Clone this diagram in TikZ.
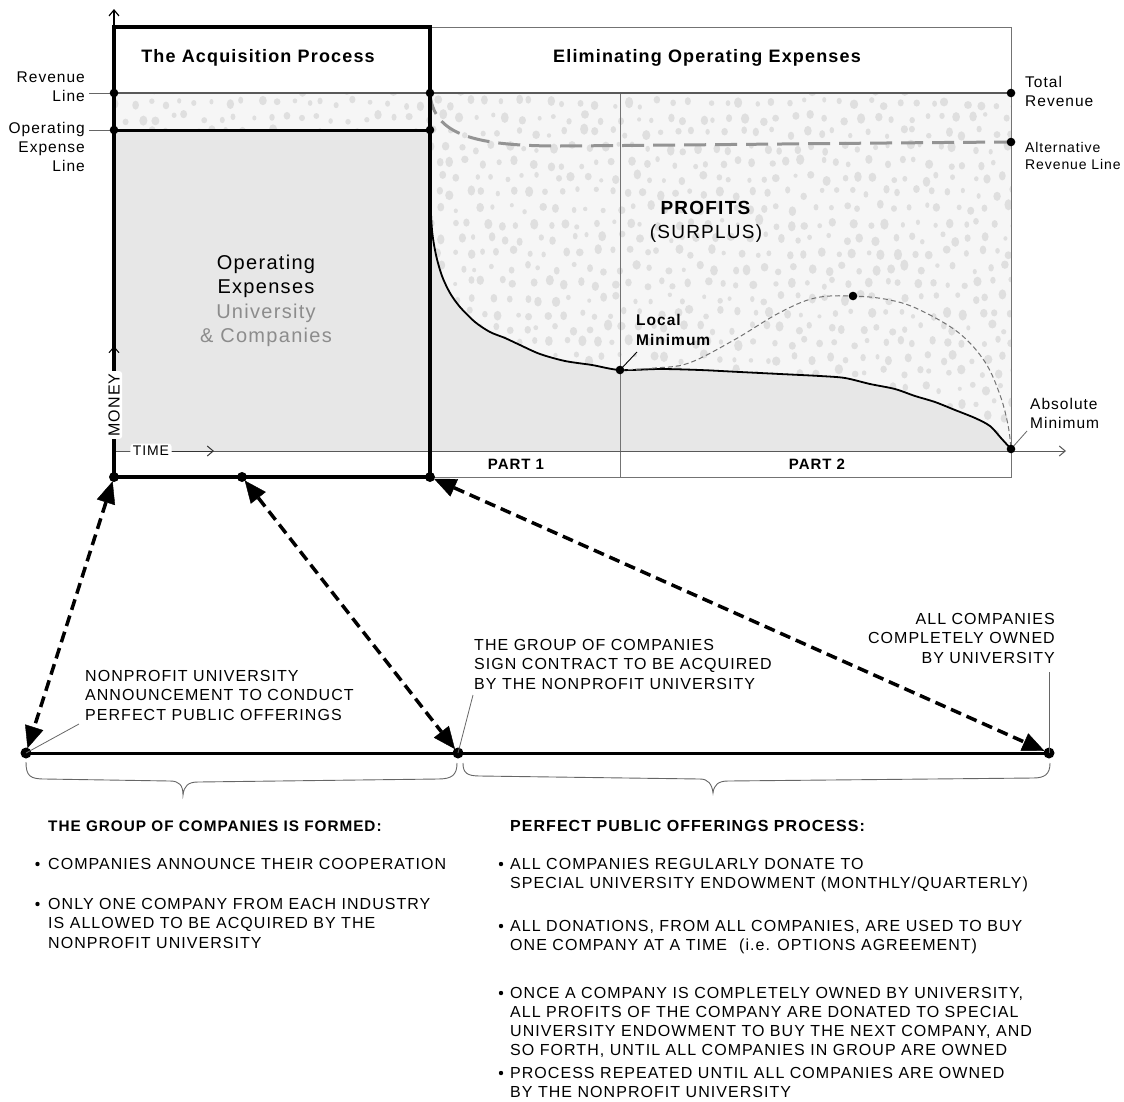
\documentclass[tikz,border=0pt]{standalone}
\usepackage{fontspec}
\setmainfont{Liberation Sans}[LetterSpace=6.5]
\usetikzlibrary{arrows.meta}
\newcommand\setfs[2]{\fontsize{#1}{#2}\selectfont}
\definecolor{dotbg}{gray}{0.963}
\definecolor{dotc}{gray}{0.875}
\definecolor{expfill}{gray}{0.905}
\begin{document}
\begin{tikzpicture}[x=1pt,y=-1pt,
  thinline/.style={draw=black!55, line width=1pt},
  leader/.style={draw=black!60, line width=0.8pt},
  barb/.style={-{Straight Barb[length=6pt,width=10pt]}, line width=1pt},
  dasharrow/.style={line width=3.5pt, dash pattern=on 11pt off 6pt,
    {Triangle[length=22pt,width=19pt,line width=0.4pt]}-{Triangle[length=22pt,width=19pt,line width=0.4pt]},
    shorten <=4.5pt, shorten >=5pt},
  lbl/.style={inner sep=0pt, font=\setfs{15.5}{19}},
  body/.style={inner sep=0pt, anchor=north west, align=left, font=\setfs{16}{19.2}},
  bul/.style={circle, fill=black, inner sep=0pt, minimum size=4.4pt},
]
\useasboundingbox (0,0) rectangle (1124,1101);

% ---------- coordinates
\coordinate (ytop) at (114,9);
\coordinate (acqTL) at (114,27);
\coordinate (acqBR) at (430,477);
\coordinate (elTL) at (430,27);
\coordinate (elBR) at (1011,477);
\coordinate (rv0) at (114,93);
\coordinate (rv1) at (430,93);
\coordinate (rv2) at (1011,93);
\coordinate (revtick) at (89,93);
\coordinate (ox0) at (114,130);
\coordinate (ox1) at (430,130);
\coordinate (oxtick) at (89,130);
\coordinate (alt1) at (1011,142);
\coordinate (p1top) at (620,93);
\coordinate (p1bot) at (620,477);
\coordinate (org) at (114,451);
\coordinate (xtip) at (1066,451);
\coordinate (timetip) at (214,451);
\coordinate (moneytip) at (114,346);
\coordinate (lm) at (620,370);
\coordinate (pk) at (853,296);
\coordinate (am) at (1011,449);
\coordinate (lmlead) at (637,352);
\coordinate (amlead) at (1027,431);
\coordinate (q0) at (114,477);
\coordinate (q1) at (242,477);
\coordinate (q2) at (430,477);
\coordinate (t0) at (26,753);
\coordinate (t1) at (458,753);
\coordinate (t2) at (1049,753);
\coordinate (t0lead) at (79,724);
\coordinate (t1lead) at (473,695);
\coordinate (t2lead) at (1049,672);

% ---------- dotted (profit) texture
\begin{scope}
  \clip (114,93) rectangle (430,130) (430,93) rectangle (1011,451);
  \fill[dotbg] (100,80) rectangle (1020,460);
  \pgfmathsetseed{4711}
  \foreach \i in {0,...,58}{
    \foreach \j in {0,...,25}{
      \pgfmathsetmacro\xx{108+16*\i+8*mod(\j,2)+4.5*rand}
      \pgfmathsetmacro\yy{88+15*\j+4*rand}
      \pgfmathsetmacro\rx{2+2.2*rnd}
      \pgfmathsetmacro\ry{\rx*(1+0.4*rnd)}
      \fill[dotc] (\xx,\yy) ellipse [x radius=\rx pt, y radius=\ry pt];
    }
  }
\end{scope}

% ---------- operating expense fills
\fill[expfill] (114,130) rectangle (430,451);
\fill[expfill] (430,451) -- (430,192) -- plot[smooth,tension=0.5] coordinates {(430,192) (432,230) (436,255) (442,276) (450,293) (460,307) (475,322) (490,332) (505,338) (520,345) (540,354) (565,361) (592,365) (620,370) (660,369) (700,370) (740,372) (780,374) (820,376) (845,378) (870,384) (895,389) (915,396) (935,402) (955,410) (975,418) (990,426) (1001,438) (1011,449)} -- (1011,451) -- cycle;

% ---------- frame lines
\draw[thinline] (elTL) rectangle (elBR);
\draw[thinline] (p1top) -- (p1bot);
\draw[barb, draw=black!65] (org) -- (xtip);
\draw[line width=2pt, black!65] (rv0) -- (rv2);
\draw[leader] (revtick) -- (rv0);
\draw[leader] (oxtick) -- (ox0);
\draw[line width=3pt] (ox0) -- (ox1);

% alternative revenue line
\draw[line width=3pt, black!42, dash pattern=on 22pt off 9pt]
  (rv1) .. controls (433,135) and (475,146) .. (560,146)
        .. controls (700,145) and (860,143) .. (alt1);

% operating expense curve
\draw[line width=1.8pt] plot[smooth,tension=0.5] coordinates {(430,192) (432,230) (436,255) (442,276) (450,293) (460,307) (475,322) (490,332) (505,338) (520,345) (540,354) (565,361) (592,365) (620,370) (660,369) (700,370) (740,372) (780,374) (820,376) (845,378) (870,384) (895,389) (915,396) (935,402) (955,410) (975,418) (990,426) (1001,438) (1011,449)};

% hypothetical dashed curve
\draw[black!55, line width=1pt, dash pattern=on 5pt off 3pt] plot[smooth,tension=0.6] coordinates {(620,370) (655,368) (689,363) (734,340) (779,313) (815,298) (853,296) (890,300) (920,310) (959,333) (985,362) (1000,395) (1008,425) (1011,449)};

% acquisition box
\draw[line width=3.5pt] (acqTL) rectangle (acqBR);
\draw[barb, line width=1.2pt] (acqTL) -- (ytop);

% axis labels
\node[fill=white, rounded corners=3pt, inner sep=2.5pt, font=\setfs{14}{16}] (time) at (151,451) {TIME};
\draw[barb, draw=black!80] (time.east) -- (timetip);
\node[fill=white, rounded corners=3pt, inner sep=2.5pt, rotate=90, font=\setfs{16}{18}] (money) at (114,405) {MONEY};
\draw[barb] (money.east) -- (moneytip);

% leaders of minima
\draw[black, line width=0.9pt] (lm) -- (lmlead);
\draw[leader] (am) -- (amlead);

% dots
\foreach \dd in {rv0,rv1,rv2,ox0,ox1,alt1,lm,pk,am} \fill (\dd) circle[radius=4.3pt];
\foreach \dd in {q0,q1,q2} \fill (\dd) circle[radius=5pt];

% ---------- chart texts
\node[anchor=base, font=\setfs{18}{22}\bfseries] (tacq) at (258,62) {The Acquisition Process};
\node[anchor=base, font=\setfs{18}{22}\bfseries] (telim) at (707,62) {Eliminating Operating Expenses};
\node[lbl, anchor=north east, align=right] (lrev) at (85,71.5) {Revenue\\Line};
\node[lbl, anchor=north east, align=right] (lopx) at (85,122.5) {Operating\\Expense\\Line};
\node[lbl, anchor=north west, align=left] (ltot) at (1025,76.5) {Total\\Revenue};
\node[inner sep=0pt, font=\setfs{14}{17}, anchor=north west, align=left] (lalt) at (1025,142) {Alternative\\Revenue Line};
\node[inner sep=0pt, anchor=north, align=center, font=\setfs{20}{24.3}] (opx) at (266,254.8)
  {Operating\\Expenses\\\textcolor{black!45}{University}\\\textcolor{black!45}{\& Companies}};
\node[inner sep=0pt, anchor=north, align=center, font=\setfs{19}{24}] (prof) at (706,201.2)
  {\textbf{PROFITS}\\(SURPLUS)};
\node[lbl, anchor=north west, align=left, font=\setfs{15.5}{20}\bfseries] (lmin) at (636,314.5) {Local\\Minimum};
\node[lbl, anchor=north west, align=left] (amin) at (1030,398.5) {Absolute\\Minimum};
\node[anchor=base, font=\setfs{15}{18}\bfseries] (part1) at (516,469.5) {PART 1};
\node[anchor=base, font=\setfs{15}{18}\bfseries] (part2) at (817,469.5) {PART 2};

% ---------- timeline
\draw[line width=3pt] (t0) -- (t2);
\foreach \dd in {t0,t1,t2} \fill (\dd) circle[radius=5.5pt];
\draw[dasharrow] (q0) -- (t0);
\draw[dasharrow] (q1) -- (t1);
\draw[dasharrow] (q2) -- (t2);

\draw[leader] (t0) -- (t0lead);
\draw[leader] (t1) -- (t1lead);
\draw[leader] (t2) -- (t2lead);
\node[body] (ann1) at (85,670.3) {NONPROFIT UNIVERSITY\\ANNOUNCEMENT TO CONDUCT\\PERFECT PUBLIC OFFERINGS};
\node[body] (ann2) at (474,639.3) {THE GROUP OF COMPANIES\\SIGN CONTRACT TO BE ACQUIRED\\BY THE NONPROFIT UNIVERSITY};
\node[body, anchor=north east, align=right] (ann3) at (1055,613.3) {ALL COMPANIES\\COMPLETELY OWNED\\BY UNIVERSITY};

% braces
\draw[black!60, line width=0.9pt] (26,762) .. controls (26,776) and (30,779) .. (45,779) -- (170,781)
  .. controls (179,781) and (183,785) .. (183,795) .. controls (184,786) and (188,782) .. (198,782)
  -- (438,779) .. controls (452,779) and (457,775) .. (457,763);
\draw[black!60, line width=0.9pt] (463,763) .. controls (463,773) and (467,776) .. (480,776) -- (700,779)
  .. controls (708,779) and (712,784) .. (713,793) .. controls (714,785) and (718,781) .. (728,781)
  -- (1033,778) .. controls (1045,778) and (1050,774) .. (1050,763);

% ---------- lists
\node[anchor=base west, inner sep=0pt, font=\setfs{15.3}{19}\bfseries] (head1) at (48,831.5) {THE GROUP OF COMPANIES IS FORMED:};
\node[anchor=base west, inner sep=0pt, font=\setfs{16}{19}\bfseries] (head2) at (510,831.5) {PERFECT PUBLIC OFFERINGS PROCESS:};

\node[bul] (bl1) at (37.5,864) {};
\node[bul] (bl2) at (37.5,904) {};
\node[body] (left1) at (48,858.3) {COMPANIES ANNOUNCE THEIR COOPERATION};
\node[body] (left2) at (48,898.3) {ONLY ONE COMPANY FROM EACH INDUSTRY\\IS ALLOWED TO BE ACQUIRED BY THE\\NONPROFIT UNIVERSITY};

\node[bul] (br1) at (501,864) {};
\node[bul] (br2) at (501,926) {};
\node[bul] (br3) at (501,993) {};
\node[bul] (br4) at (501,1073) {};
\node[body] (right1) at (510,858.3) {ALL COMPANIES REGULARLY DONATE TO\\SPECIAL UNIVERSITY ENDOWMENT (MONTHLY/QUARTERLY)};
\node[body] (right2) at (510,920.3) {ALL DONATIONS, FROM ALL COMPANIES, ARE USED TO BUY\\ONE COMPANY AT A TIME\hspace{12pt}(i.e. OPTIONS AGREEMENT)};
\node[body, font=\setfs{16}{18.8}] (right3) at (510,987.3) {ONCE A COMPANY IS COMPLETELY OWNED BY UNIVERSITY,\\ALL PROFITS OF THE COMPANY ARE DONATED TO SPECIAL\\UNIVERSITY ENDOWMENT TO BUY THE NEXT COMPANY, AND\\SO FORTH, UNTIL ALL COMPANIES IN GROUP ARE OWNED};
\node[body] (right4) at (510,1067.3) {PROCESS REPEATED UNTIL ALL COMPANIES ARE OWNED\\BY THE NONPROFIT UNIVERSITY};
\end{tikzpicture}
\end{document}
